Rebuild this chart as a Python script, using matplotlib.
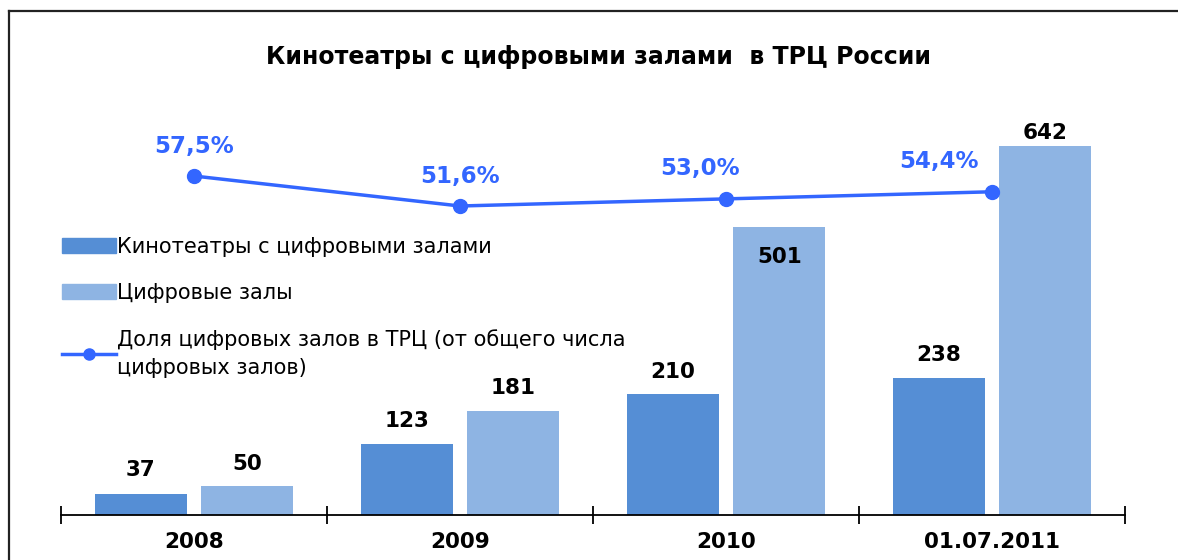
import matplotlib
matplotlib.use("Agg")
import matplotlib.pyplot as plt
from matplotlib.lines import Line2D
from matplotlib.patches import Patch
import numpy as np

# chart data
categories = ['2008', '2009', '2010', '01.07.2011']
cinemas = [37, 123, 210, 238]
screens = [50, 181, 501, 642]
share = [57.5, 51.6, 53.0, 54.4]
share_labels = ['57,5%', '51,6%', '53,0%', '54,4%']

title = 'Кинотеатры с цифровыми залами  в ТРЦ России'
legend_names = ['Кинотеатры с цифровыми залами',
                'Цифровые залы',
                'Доля цифровых залов в ТРЦ (от общего числа\nцифровых залов)']

c_dark = '#558ED5'
c_light = '#8EB4E3'
c_line = '#3366FF'

W, H = 1178, 560
fig = plt.figure(figsize=(W / 100, H / 100), dpi=100)

# frame lines (top and left)
fig.add_artist(Line2D([9 / W, 1], [1 - 11 / H, 1 - 11 / H], color='#222222', lw=1.6))
fig.add_artist(Line2D([9 / W, 9 / W], [0, 1 - 11 / H], color='#222222', lw=1.6))

fig.text(598 / W, 1 - 57 / H, title, ha='center', va='center',
         fontsize=17, fontweight='bold', family='DejaVu Sans')

ax = fig.add_axes([61 / W, 45 / H, 1064 / W, 402 / H])
x = np.arange(len(categories))
bw = 0.346
off = 0.201
b1 = ax.bar(x - off, cinemas, bw, color=c_dark)
b2 = ax.bar(x + off, screens, bw, color=c_light)
ax.set_xlim(-0.5, 3.5)
ax.set_ylim(0, 700)

for s in ['top', 'right', 'left']:
    ax.spines[s].set_visible(False)
ax.spines['bottom'].set_linewidth(1.3)
ax.set_yticks([])
ax.set_xticks(x)
ax.set_xticklabels(categories, fontsize=15.5, fontweight='bold')
ax.tick_params(axis='x', which='major', length=0, pad=12)
ax.set_xticks(np.arange(-0.5, 4, 1), minor=True)
ax.tick_params(axis='x', which='minor', direction='inout', length=13, width=1.3)

# bar value labels (pixel offsets)
lab1_off = [24, 23, 22, 23]
lab2_off = [22, 23, -30, 13]
for i in range(len(categories)):
    ax.annotate(str(cinemas[i]), (x[i] - off, cinemas[i]), xytext=(0, lab1_off[i] * 0.72),
                textcoords='offset points', ha='center', va='center',
                fontsize=15.5, fontweight='bold')
    ax.annotate(str(screens[i]), (x[i] + off, screens[i]), xytext=(0, lab2_off[i] * 0.72),
                textcoords='offset points', ha='center', va='center',
                fontsize=15.5, fontweight='bold')

ax2 = ax.twinx()
ax2.set_ylim(-9.2, 69.9)
ax2.axis('off')
ax2.plot(x, share, color=c_line, lw=2.5, marker='o', markersize=10)
pct_dx = [0, 0, -26, -53]
for i in range(len(categories)):
    ax2.annotate(share_labels[i], (x[i], share[i]), xytext=(pct_dx[i] * 0.72, 30 * 0.72),
                 textcoords='offset points', ha='center', va='center',
                 fontsize=16.5, fontweight='bold', color=c_line)

handles = [Patch(color=c_dark), Patch(color=c_light),
           Line2D([], [], color=c_line, lw=2.5, marker='o', markersize=8)]
leg = fig.legend(handles, legend_names, loc='upper left',
                 bbox_to_anchor=(43 / W, 1 - 218 / H), frameon=False,
                 prop={'family': 'DejaVu Sans', 'size': 15},
                 handlelength=2.6, handleheight=0.7, handletextpad=0.05,
                 labelspacing=1.25)
for t in leg.get_texts():
    t.set_linespacing(1.5)

fig.savefig('out.png', dpi=100)
